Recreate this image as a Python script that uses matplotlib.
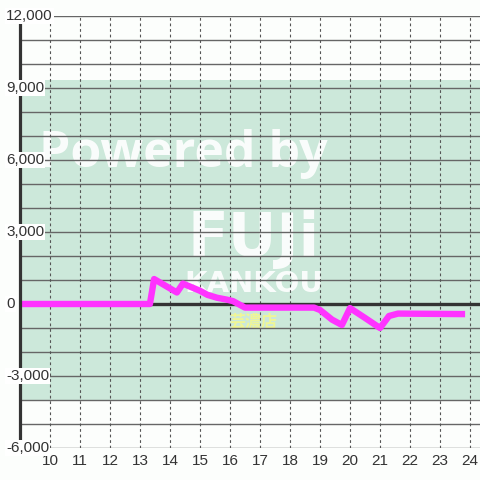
import matplotlib
matplotlib.use('Agg')
import matplotlib.pyplot as plt
from matplotlib.transforms import blended_transform_factory

# data
hours = [9.0, 13.33, 13.47, 14.23, 14.43, 15.0, 15.25, 15.57, 15.9, 16.1,
         16.5, 18.8, 19.0, 19.4, 19.73, 20.0, 20.5, 21.0, 21.3, 21.6, 23.73]
diff = [0, 0, 1040, 480, 850, 550, 380, 260, 180, 120,
        -150, -150, -250, -650, -875, -170, -580, -1000, -500, -400, -420]

x_ticks = list(range(10, 25))
y_ticks = [-6000, -3000, 0, 3000, 6000, 9000, 12000]
band = (-4000, 9333)

bg = '#fcfefc'
fig = plt.figure(figsize=(4.8, 4.8), dpi=100, facecolor=bg)
ax = fig.add_axes([20 / 480, 32 / 480, 460 / 480, 432 / 480])
ax.set_facecolor(bg)
ax.set_xlim(9.0, 24.333)
ax.set_ylim(-6000, 12000)

ax.axhspan(band[0], band[1], color='#cce8da', lw=0, zorder=0)

# watermark
ax.text(0.355, 0.68, 'Powered by', transform=ax.transAxes, family='Open Sans',
        weight='bold', fontsize=36, color='white', alpha=0.9,
        ha='center', va='center', zorder=0.5)
ax.text(0.507, 0.482, 'FUJi', transform=ax.transAxes, family='DejaVu Sans',
        weight='bold', fontsize=43, color='white', alpha=0.9,
        ha='center', va='center', zorder=0.5)
ax.text(0.509, 0.38, 'KANKOU', transform=ax.transAxes, family='DejaVu Sans',
        weight='bold', fontsize=21, color='white', alpha=0.9,
        ha='center', va='center', zorder=0.5)
ax.text(0.507, 0.293, '芸濃店', transform=ax.transAxes,
        family=['Noto Sans CJK JP', 'DejaVu Sans'], weight='bold',
        fontsize=11.5, color='#f4f890', alpha=0.9,
        ha='center', va='center', zorder=0.5)

# grid
for v in range(-6000, 12001, 1000):
    ax.axhline(v, color='#666666', lw=1.0, zorder=1)
for h in x_ticks:
    ax.axvline(h, color='#555555', lw=0.8, ls=(0, (2.5, 2.5)), zorder=1)
ax.axhline(0, color='#333333', lw=2.4, zorder=2)

ax.plot(hours, diff, color='#ff33ff', lw=4.6, solid_capstyle='projecting',
        solid_joinstyle='round', zorder=3)

for s in ['top', 'right', 'bottom']:
    ax.spines[s].set_visible(False)
ax.spines['left'].set_color('#333333')
ax.spines['left'].set_linewidth(2.3)
ax.spines['left'].set_zorder(4)

ax.set_xticks(x_ticks)
ax.set_xticklabels([str(h) for h in x_ticks], family='Liberation Sans')
ax.tick_params(axis='x', length=0, pad=4, labelsize=11, labelcolor='#333333')
ax.set_yticks([])

tr = blended_transform_factory(fig.transFigure, ax.transData)
for v in y_ticks:
    ax.text(6 / 480, v, f'{v:,}', transform=tr, ha='left', va='center',
            family='Liberation Sans', fontsize=11, color='#333333',
            clip_on=False, zorder=10,
            bbox=dict(facecolor='white', edgecolor='none', pad=0.8))

fig.savefig('out.png', dpi=100, facecolor=bg)
